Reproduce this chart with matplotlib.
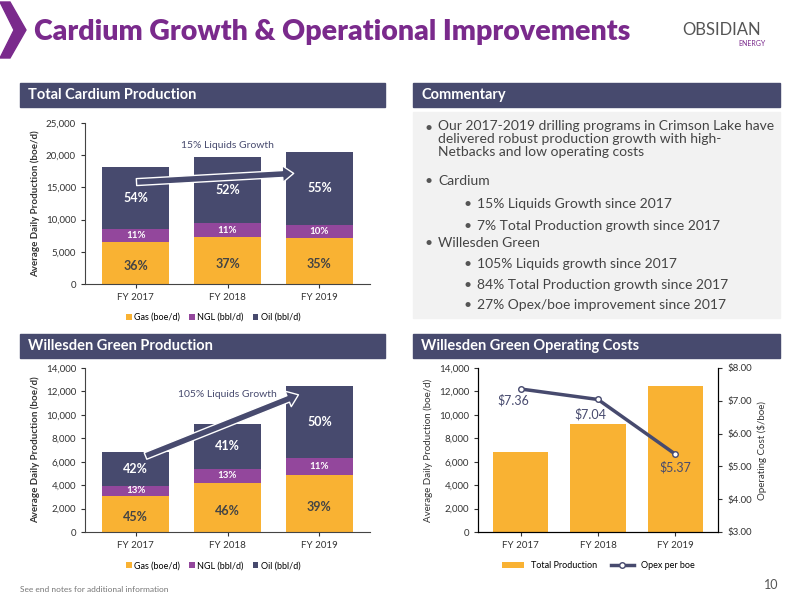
import matplotlib
matplotlib.use("Agg")
import matplotlib.pyplot as plt
from matplotlib.patches import Rectangle, Polygon
from matplotlib.ticker import FuncFormatter
import numpy as np

years = ["FY 2017", "FY 2018", "FY 2019"]
card_gas = [6500, 7300, 7100]
card_ngl = [2000, 2100, 2100]
card_oil = [9600, 10300, 11300]
card_pct = [["36%", "11%", "54%"], ["37%", "11%", "52%"], ["35%", "10%", "55%"]]
wg_gas = [3100, 4200, 4900]
wg_ngl = [850, 1200, 1400]
wg_oil = [2850, 3800, 6200]
wg_pct = [["45%", "13%", "42%"], ["46%", "13%", "41%"], ["39%", "11%", "50%"]]
wg_total = [6800, 9200, 12500]
wg_opex = [7.36, 7.04, 5.37]
wg_opex_lbl = ["$7.36", "$7.04", "$5.37"]
years_cost = ["FY 2017", "FY 2018", "FY 2019"]

GAS = "#F9B233"; NGL = "#93479C"; OIL = "#474A6E"; HDR = "#474A6E"; TITLE = "#7A2A8C"
plt.rcParams['font.family'] = ['Lato', 'DejaVu Sans']

fig = plt.figure(figsize=(8, 6), dpi=100)
fig.patch.set_facecolor("white")

def px(x, y, w, h):
    return [x / 800, 1 - (y + h) / 600, w / 800, h / 600]

fig.patches.append(Polygon([[0, 1 - 2/600], [10/800, 1 - 2/600], [26/800, 1 - 30/600], [10/800, 1 - 58/600], [0, 1 - 58/600], [14/800, 1 - 30/600]],
                           closed=True, transform=fig.transFigure, color=TITLE))
fig.text(34/800, 1 - 32/600, "Cardium Growth & Operational Improvements", fontsize=20.5, fontweight="heavy",
         color=TITLE, va="center")
fig.text(722/800, 1 - 30/600, "OBSIDIAN", fontsize=12, color="#555555", ha="center", va="center")
fig.text(752/800, 1 - 43/600, "ENERGY", fontsize=5, color=TITLE, ha="center", va="center")

def header(x, y, w, text):
    fig.patches.append(Rectangle((x/800, 1-(y+24)/600), w/800, 24/600, transform=fig.transFigure, color=HDR))
    fig.text((x+8)/800, 1-(y+12)/600, text, color="white", fontsize=10.5, fontweight="bold", va="center")

header(20, 83, 365, "Total Cardium Production")
header(413, 83, 367, "Commentary")
header(20, 334, 365, "Willesden Green Production")
header(413, 334, 367, "Willesden Green Operating Costs")

fig.patches.append(Rectangle((413/800, 1-318/600), 367/800, 206/600, transform=fig.transFigure, color="#F2F2F2"))
items = [(0, 128, "Our 2017-2019 drilling programs in Crimson Lake have\ndelivered robust production growth with high-\nNetbacks and low operating costs"),
         (0, 181, "Cardium"), (1, 204, "15% Liquids Growth since 2017"), (1, 226, "7% Total Production growth since 2017"),
         (0, 243, "Willesden Green"), (1, 264, "105% Liquids growth since 2017"), (1, 285, "84% Total Production growth since 2017"),
         (1, 305, "27% Opex/boe improvement since 2017")]
for lvl, y, t in items:
    x0 = 425 if lvl == 0 else 464
    fig.text(x0/800, 1-y/600, "•", fontsize=10, color="#555555", va="center")
    if "\n" in t:
        fig.text((x0+13)/800, 1-(y-8)/600, t, fontsize=10, color="#444444", va="top", linespacing=1.1)
    else:
        fig.text((x0+13)/800, 1-y/600, t, fontsize=10, color="#444444", va="center")

def fmt_k(v, p):
    return f"{int(v):,}"

def stacked(rect, gas, ngl, oil, pct, ymax, step, label_txt, arrow):
    ax = fig.add_axes(rect)
    x = np.arange(3)
    ax.bar(x, gas, 0.72, color=GAS, label="Gas (boe/d)")
    ax.bar(x, ngl, 0.72, bottom=gas, color=NGL, label="NGL (bbl/d)")
    b2 = np.array(gas) + np.array(ngl)
    ax.bar(x, oil, 0.72, bottom=b2, color=OIL, label="Oil (bbl/d)")
    for i in range(3):
        ax.text(i, gas[i]/2 - ymax*0.02, pct[i][0], ha="center", va="center", color="#444444", fontsize=9, fontweight="bold")
        ax.text(i, gas[i] + ngl[i]/2, pct[i][1], ha="center", va="center", color="white", fontsize=7, fontweight="bold")
        ax.text(i, b2[i] + oil[i]/2, pct[i][2], ha="center", va="center", color="white", fontsize=9, fontweight="bold")
    ax.set_ylim(0, ymax); ax.set_xlim(-0.55, 2.55)
    ax.set_yticks(np.arange(0, ymax + 1, step))
    ax.yaxis.set_major_formatter(FuncFormatter(fmt_k))
    ax.set_xticks(x); ax.set_xticklabels(years)
    ax.tick_params(labelsize=7, colors="#333333", length=3)
    for s in ["top", "right"]:
        ax.spines[s].set_visible(False)
    ax.spines["left"].set_color("#444444"); ax.spines["bottom"].set_color("#444444")
    ax.set_ylabel("Average Daily Production (boe/d)", fontsize=7, fontweight="bold", color="#333333")
    ax.text(1, label_txt[1], label_txt[0], ha="center", va="center", fontsize=7.5, color="#474A6E")
    ax.annotate("", xy=arrow[1], xytext=arrow[0],
                arrowprops=dict(arrowstyle="simple,head_width=1.2,head_length=0.8,tail_width=0.5", fc=OIL, ec="white", lw=1))
    ax.legend(loc="upper center", bbox_to_anchor=(0.45, -0.13), ncol=3, frameon=False, fontsize=6.5,
              handlelength=0.6, handletextpad=0.3, columnspacing=1.0)
    return ax

stacked(px(85, 123, 285, 161), card_gas, card_ngl, card_oil, card_pct, 25000, 5000,
        ("15% Liquids Growth", 21500), ((-0.02, 15800), (1.75, 17200)))
stacked(px(85, 368, 285, 164), wg_gas, wg_ngl, wg_oil, wg_pct, 14000, 2000,
        ("105% Liquids Growth", 11700), ((0.08, 6400), (1.8, 11800)))

ax3 = fig.add_axes(px(478, 368, 240, 164))
x = np.arange(3)
ax3.bar(x, wg_total, 0.72, color=GAS, label="Total Production")
ax3.set_ylim(0, 14000); ax3.set_xlim(-0.55, 2.55)
ax3.set_yticks(np.arange(0, 14001, 2000))
ax3.yaxis.set_major_formatter(FuncFormatter(fmt_k))
ax3.set_xticks(x); ax3.set_xticklabels(years_cost)
ax3.tick_params(labelsize=7, colors="#333333", length=3)
ax3.spines["top"].set_visible(False)
ax3.set_ylabel("Average Daily Production (boe/d)", fontsize=7, color="#333333")
ax4 = ax3.twinx()
ln, = ax4.plot(x, wg_opex, color=OIL, lw=2.5, marker="o", ms=4, mfc="white", mec=OIL, label="Opex per boe")
ax4.set_ylim(3, 8)
ax4.yaxis.set_major_formatter(FuncFormatter(lambda v, p: f"${v:.2f}"))
ax4.tick_params(labelsize=7, colors="#333333", length=3)
ax4.spines["top"].set_visible(False)
ax4.set_ylabel("Operating Cost ($/boe)", fontsize=7, color="#333333")
offs = [(-0.1, -0.35), (-0.1, -0.45), (0, -0.4)]
for i in range(3):
    ax4.text(x[i] + offs[i][0], wg_opex[i] + offs[i][1], wg_opex_lbl[i], ha="center", va="center", fontsize=9, color=OIL)
h1, l1 = ax3.get_legend_handles_labels()
ax3.legend(h1 + [ln], l1 + ["Opex per boe"], loc="upper center", bbox_to_anchor=(0.5, -0.13), ncol=2,
           frameon=False, fontsize=6.5, handlelength=2.5, columnspacing=1.5)

fig.text(20/800, 1-589/600, "See end notes for additional information", fontsize=6, color="#777777", va="center")
fig.text(778/800, 1-585/600, "10", fontsize=9, color="#555555", ha="right", va="center")

fig.savefig("out.png", dpi=100)
